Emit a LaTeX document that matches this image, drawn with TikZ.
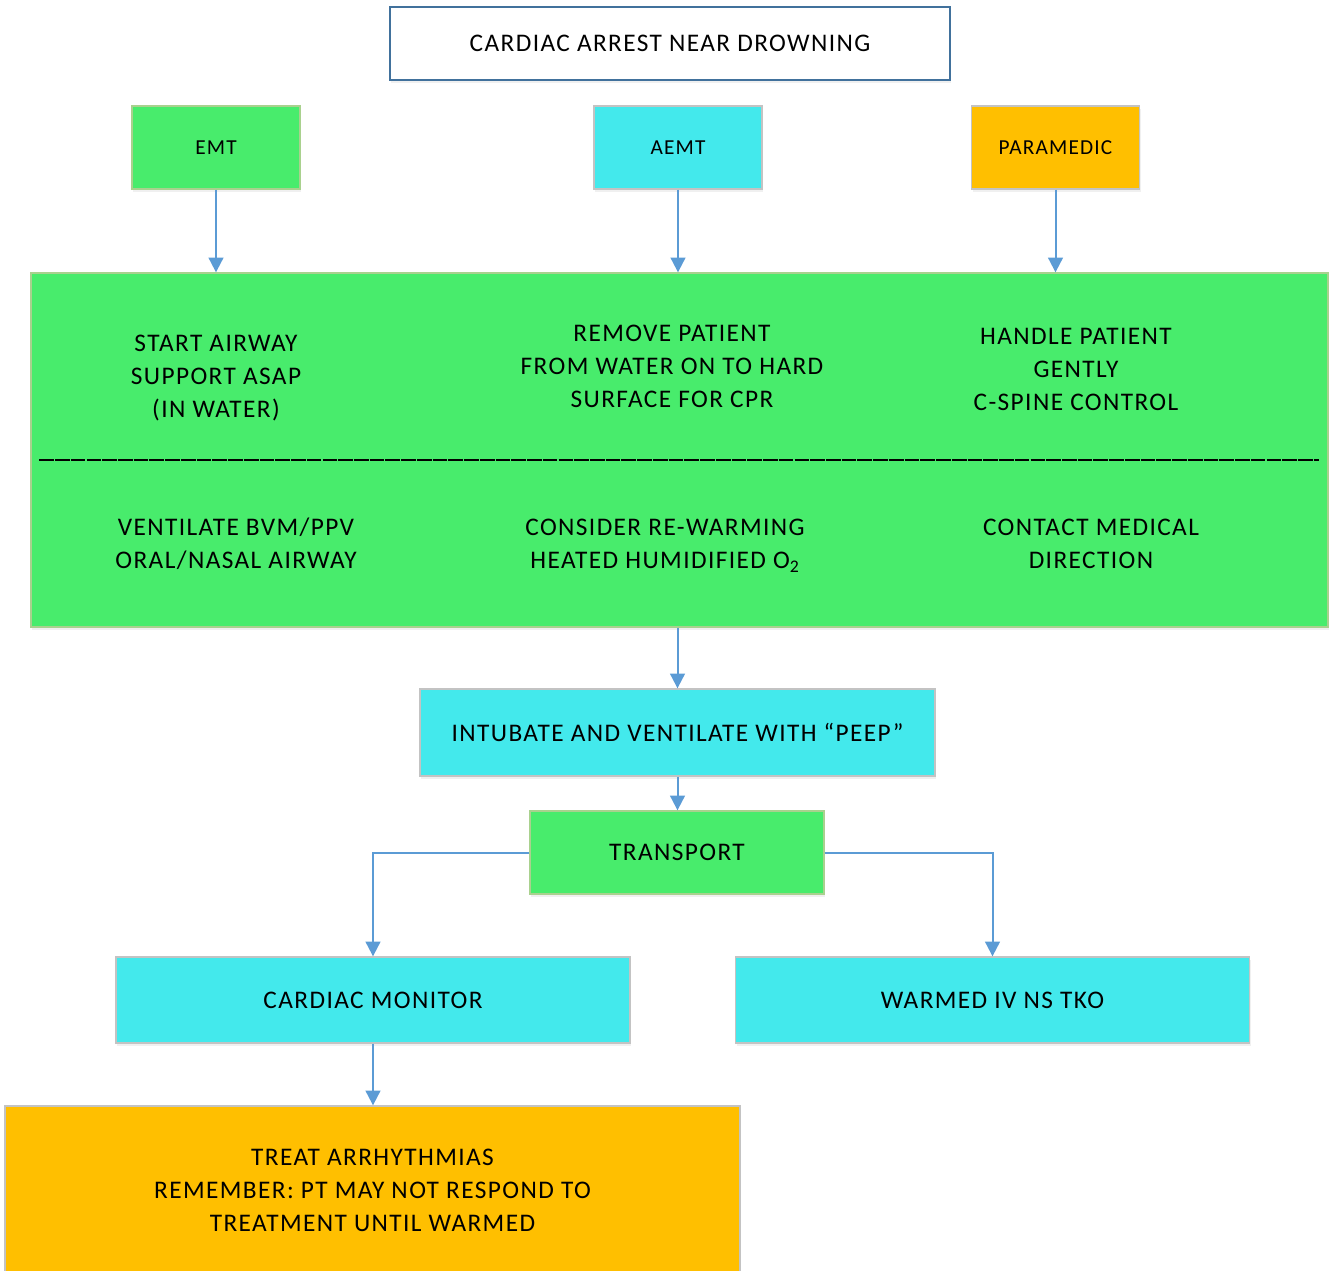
\documentclass[tikz,border=0pt]{standalone}
\usepackage{fontspec}
\setmainfont{Carlito}[LetterSpace=5.5]
\usetikzlibrary{arrows.meta,calc,shadows}

\definecolor{boxgreen}{HTML}{48EC6C}
\definecolor{boxcyan}{HTML}{43E9EC}
\definecolor{boxorange}{HTML}{FFBF00}
\definecolor{linkblue}{HTML}{5B9BD5}
\definecolor{titleblue}{HTML}{41719C}
\definecolor{greenedge}{HTML}{A9D18E}
\definecolor{grayedge}{HTML}{C3C3C3}

\tikzset{
  box/.style={line width=1pt, inner sep=0pt, align=center,
    font=\fontsize{19}{24.75}\selectfont,
    drop shadow={shadow xshift=1pt, shadow yshift=-2pt, opacity=0.12}},
  titlebox/.style={box, draw=titleblue, fill=white, drop shadow={opacity=0}},
  greenbox/.style={box, draw=greenedge, fill=boxgreen},
  cyanbox/.style={box, draw=grayedge, fill=boxcyan},
  orangebox/.style={box, draw=grayedge, fill=boxorange},
  rolebox/.style={minimum width=126pt, minimum height=62.25pt,
    font=\fontsize{16}{19}\selectfont},
  note/.style={align=center, inner sep=0pt, font=\fontsize{19}{24.75}\selectfont},
  link/.style={draw=linkblue, line width=1.5pt, -{Triangle[width=11pt,length=11pt]}},
  divider/.style={line width=1.1pt, dash pattern=on 11pt off 0.8pt}
}

\begin{document}
\begin{tikzpicture}[x=0.75pt,y=-0.75pt]
\useasboundingbox (0,0) rectangle (1330,1270);

\node[titlebox, minimum width=420pt, minimum height=54.75pt] (title) at (670,43.5) {CARDIAC ARREST NEAR DROWNING};

\node[greenbox, rolebox] (emt) at (216,147.5) {EMT};
\node[cyanbox, rolebox] (aemt) at (678,147.5) {AEMT};
\node[orangebox, rolebox] (paramedic) at (1055.5,147.5) {PARAMEDIC};

\node[greenbox, minimum width=972.75pt, minimum height=265.5pt] (big) at (679.5,450) {};

\node[note] (airway) at (216,378.5) {START AIRWAY\\SUPPORT ASAP\\(IN WATER)};
\node[note] (remove) at (672,366) {REMOVE PATIENT\\FROM WATER ON TO HARD\\SURFACE FOR CPR};
\node[note] (handle) at (1076,369.5) {HANDLE PATIENT\\GENTLY\\C-SPINE CONTROL};
\node[note] (ventilate) at (236,543.5) {VENTILATE BVM/PPV\\ORAL/NASAL AIRWAY};
\node[note] (rewarm) at (665,545.5) {CONSIDER RE-WARMING\\HEATED HUMIDIFIED O\textsubscript{2}};
\node[note] (contact) at (1091,543.5) {CONTACT MEDICAL\\DIRECTION};

\draw[divider] ($(big.west)+(9,10)$) -- ($(big.east)+(-10,10)$);

\node[cyanbox, minimum width=386.25pt, minimum height=65.25pt] (intubate) at (677.5,732.5) {INTUBATE AND VENTILATE WITH ``PEEP''};
\node[greenbox, minimum width=220.5pt, minimum height=62.25pt] (transport) at (677,852.5) {TRANSPORT};
\node[cyanbox, minimum width=385.5pt, minimum height=64.5pt] (monitor) at (373,1000) {CARDIAC MONITOR};
\node[cyanbox, minimum width=385.5pt, minimum height=64.5pt] (warmed) at (992.5,1000) {WARMED IV NS TKO};
\node[orangebox, minimum width=551.25pt, minimum height=126pt] (treat) at (372.5,1190) {TREAT ARRHYTHMIAS\\REMEMBER: PT MAY NOT RESPOND TO\\TREATMENT UNTIL WARMED};

\draw[link] (emt) -- (emt |- big.north);
\draw[link] (aemt) -- (aemt |- big.north);
\draw[link] (paramedic) -- (paramedic |- big.north);
\draw[link] (big.south -| intubate) -- (intubate);
\draw[link] (intubate) -- (intubate |- transport.north);
\draw[link] (transport.west) -| (monitor.north);
\draw[link] (transport.east) -| (warmed.north);
\draw[link] (monitor) -- (monitor |- treat.north);

\end{tikzpicture}
\end{document}
